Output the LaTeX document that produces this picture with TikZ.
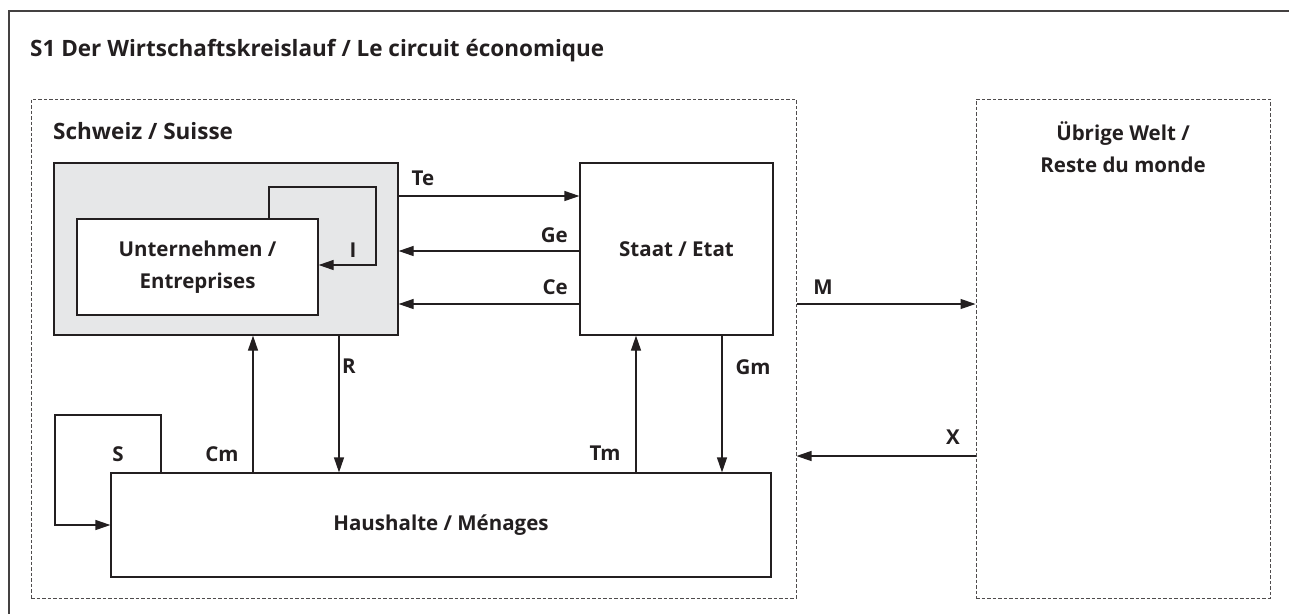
\documentclass[tikz,border=0pt]{standalone}
\usepackage{fontspec}
\setmainfont{Open Sans}
\usepackage{xcolor}
\usetikzlibrary{arrows.meta}
\usetikzlibrary{positioning}
\definecolor{boxgray}{HTML}{E6E7E8}
\definecolor{ink}{HTML}{231F20}
\tikzset{
    box/.style = {rectangle, draw=ink, line width=1.2pt, fill=white, align=center, inner sep=0pt, font=\bfseries\fontsize{20.5}{32}\selectfont, text=ink},
    zone/.style = {rectangle, draw=ink!80, dash pattern=on 3.5pt off 2pt, line width=1pt, inner sep=0pt},
    flow/.style = {-{Triangle[length=15pt,width=10pt]}, draw=ink, line width=1.2pt},
    lab/.style = {font=\bfseries\fontsize{20.5}{32}\selectfont, text=ink, inner sep=0pt, align=center},
    head/.style = {font=\bfseries\fontsize{22.5}{28}\selectfont, text=ink, inner sep=0pt},
}
\begin{document}
\begin{tikzpicture}[x=1pt, y=-1pt]
\useasboundingbox (0,0) rectangle (1289,614);
% frame and title
\draw[draw=ink!85, line width=1.5pt] (1289,11) -- (9,11) -- (9,614);
\node[head, anchor=base west] (title) at (30,56) {S1 Der Wirtschaftskreislauf / Le circuit économique};
%
\node[zone, minimum width=765, minimum height=499] (schweiz) at (413.5,348.5) {};
\node[zone, minimum width=294, minimum height=499] (welt) at (1123,348.5) {};
\node[head, anchor=base west] (schweizlab) at (53,139) {Schweiz / Suisse};
\node[lab] (weltlab) at (1123,147) {Übrige Welt /\\Reste du monde};
%
\node[box, fill=boxgray, minimum width=344, minimum height=172] (firm) at (226,249) {};
\node[box, minimum width=241, minimum height=96] (unt) at (197.5,267) {Unternehmen /\\Entreprises};
\node[box, minimum width=193, minimum height=172] (staat) at (676.5,249) {Staat / Etat};
\node[box, minimum width=660, minimum height=104] (haus) at (441,525) {Haushalte / Ménages};
%
\draw[flow] (firm.east |- 0,196) -- (staat.west |- 0,196);
\draw[flow] (staat.west |- 0,251) -- (firm.east |- 0,251);
\draw[flow] (staat.west |- 0,304) -- (firm.east |- 0,304);
\draw[flow] (schweiz.east |- 0,304) -- (welt.west |- 0,304);
\draw[flow] (welt.west |- 0,456) -- (schweiz.east |- 0,456);
%
\draw[flow] (haus.north -| 253,0) -- (firm.south -| 253,0);
\draw[flow] (firm.south -| 339,0) -- (haus.north -| 339,0);
\draw[flow] (haus.north -| 636,0) -- (staat.south -| 636,0);
\draw[flow] (staat.south -| 722,0) -- (haus.north -| 722,0);
%
\draw[flow] (unt.north -| 269,0) -- (269,187) -- (376,187) -- (376,265) -- (unt.east |- 0,265);
\draw[flow] (haus.north -| 161,0) -- (161,415) -- (55,415) -- (55,525) -- (haus.west);
%
\node[lab] (te) at (423,178) {Te};
\node[lab, anchor=east] (ge) at (568,235) {Ge};
\node[lab, anchor=east] (ce) at (568,287) {Ce};
\node[lab] (m) at (823,287) {M};
\node[lab] (x) at (953,437) {X};
\node[lab] (i) at (353,250) {I};
\node[lab] (s) at (118,454) {S};
\node[lab] (cm) at (222,454) {Cm};
\node[lab] (r) at (349,366) {R};
\node[lab] (tm) at (605,453) {Tm};
\node[lab] (gm) at (753,367) {Gm};
\end{tikzpicture}
\end{document}
